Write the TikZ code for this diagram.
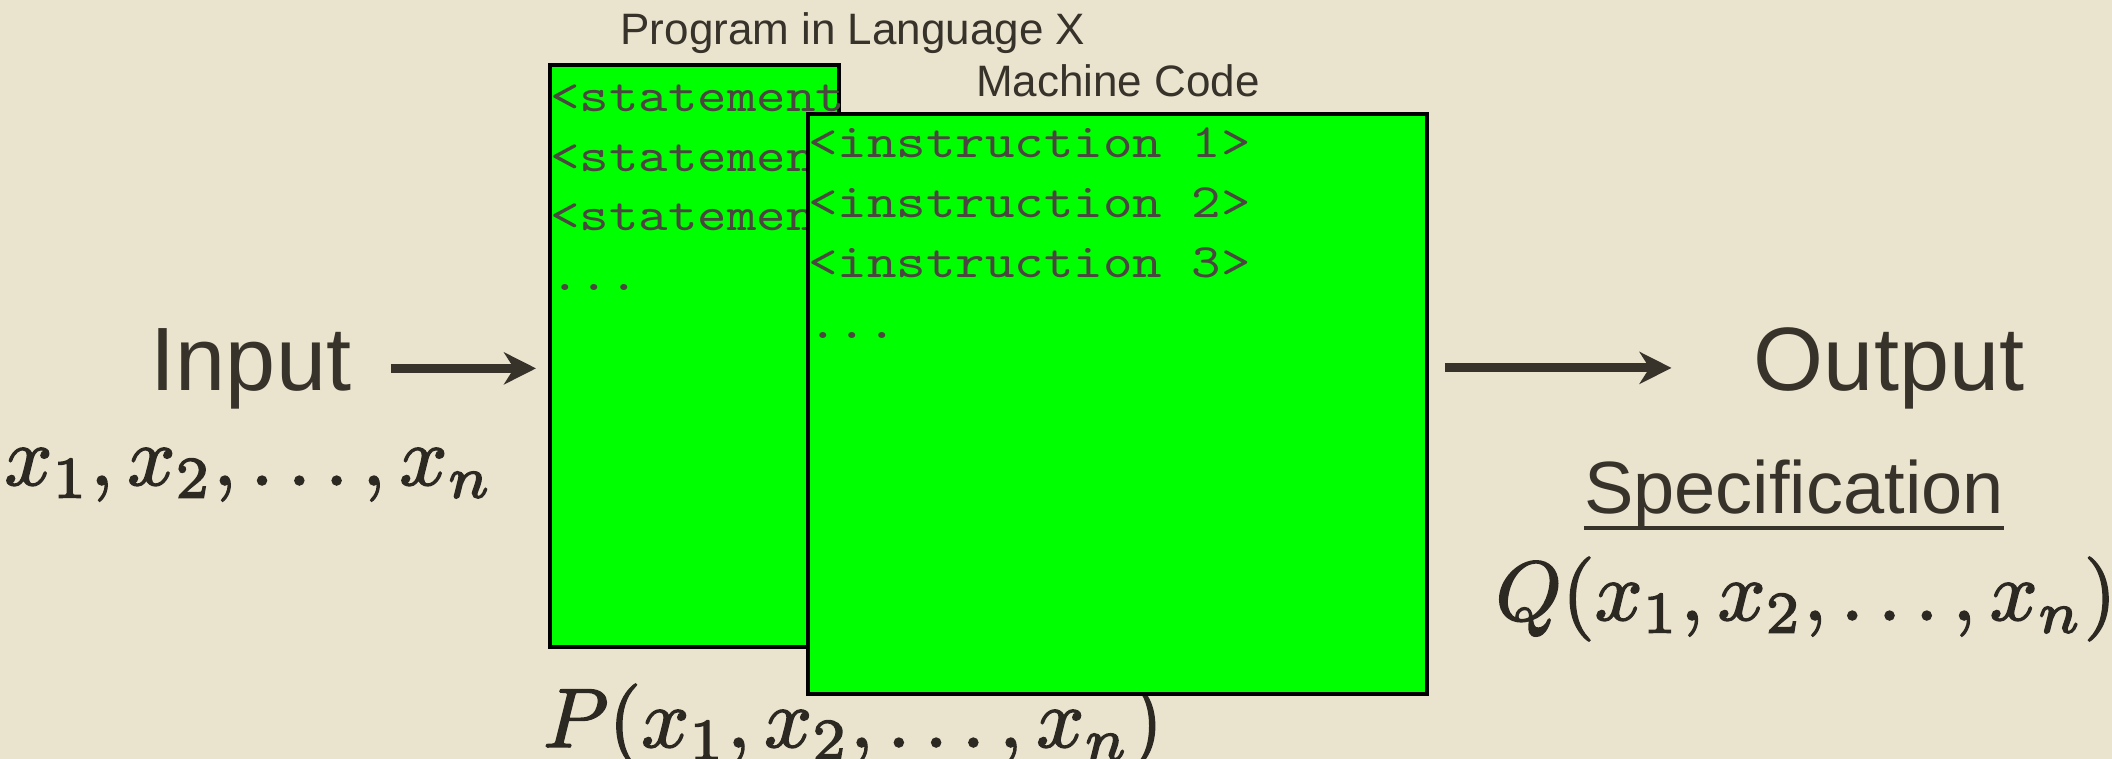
\RequirePackage{fix-cm}
\documentclass[tikz,border=0pt]{standalone}
\usepackage{fontspec}
\setmainfont{Liberation Sans}
\newfontfamily\codefont[FakeStretch=1.17]{lmmono10-regular.otf}
\usetikzlibrary{arrows.meta}

\definecolor{paper}{RGB}{234,228,207}
\definecolor{ink}{RGB}{55,50,42}
\definecolor{codegreen}{RGB}{0,255,0}

% formulas are set at 10pt, blown up and given a slightly heavier stroke
\newcommand{\bigmath}[1]{%
  \special{pdf:literal direct 2 Tr 0.18 w}%
  \scalebox{4.2}{$#1$}%
  \special{pdf:literal direct 0 Tr}}

\tikzset{
  codebox/.style={draw=black, line width=2pt, fill=codegreen, rectangle, inner sep=0pt, anchor=north west},
  codeline/.style={anchor=base west, inner sep=0pt, text=ink!90!white, font=\codefont\fontsize{24}{26}\selectfont},
  caption/.style={anchor=base, inner sep=0pt, text=ink, font=\fontsize{22}{26}\selectfont},
  bigtext/.style={anchor=base, inner sep=0pt, text=ink, font=\fontsize{45}{50}\selectfont},
  mathtext/.style={anchor=base, inner sep=0pt, text=ink!80!black},
  flow/.style={draw=ink, line width=4.5pt, -{Stealth[length=16pt, width=16pt, inset=5pt]}},
}

\begin{document}
\begin{tikzpicture}[x=0.5pt, y=-0.5pt]
	% Page
	\fill[paper] (0,0) rectangle (2112,759);
	\useasboundingbox (0,0) rectangle (2112,759);
	
	% Program in the source language (back sheet)
	\node[caption] (progtitle) at (853,45) {Program in Language X};
	\node[codebox, minimum width=144.5pt, minimum height=291pt] (prog) at (548,63) {};
	\begin{scope}
		\clip (prog.north west) rectangle (prog.south east);
		\node[codeline] (stmt1) at (550,112) {<statement 1>};
		\node[codeline] (stmt2) at (550,172) {<statement 2>};
		\node[codeline] (stmt3) at (550,230) {<statement 3>};
		\node[codeline] (stmtdots) at (550,290) {...};
	\end{scope}
	\node[mathtext] (progfun) at (853,747) {\bigmath{P(x_1, x_2, \ldots, x_n)}};
	
	% Compiled machine code (front sheet)
	\node[caption] (mctitle) at (1118,97) {Machine Code};
	\node[codebox, minimum width=309.5pt, minimum height=290pt] (mcode) at (806,112) {};
	\node[codeline] (instr1) at (808,158) {<instruction 1>};
	\node[codeline] (instr2) at (808,218) {<instruction 2>};
	\node[codeline] (instr3) at (808,277) {<instruction 3>};
	\node[codeline] (instrdots) at (808,338) {...};
	
	% Input side
	\node[bigtext] (input) at (251,390) {Input};
	\node[mathtext] (inargs) at (249,485) {\bigmath{x_1, x_2, \ldots, x_n}};
	\draw[flow, shorten <=20pt, shorten >=6pt] (input.east) -- (input.east -| prog.west);
	
	% Output side
	\node[bigtext] (output) at (1889,390) {Output};
	\node[bigtext, font=\fontsize{37}{42}\selectfont] (spec) at (1794,513) {Specification};
	\draw[ink, line width=1.8pt] ([yshift=-7.5pt]spec.base west) -- ([yshift=-7.5pt]spec.base east);
	\node[mathtext] (specfun) at (1806,620) {\bigmath{Q(x_1, x_2, \ldots, x_n)}};
	\draw[flow, shorten <=8pt, shorten >=41pt] (output.west -| mcode.east) -- (output.west);
\end{tikzpicture}
\end{document}
